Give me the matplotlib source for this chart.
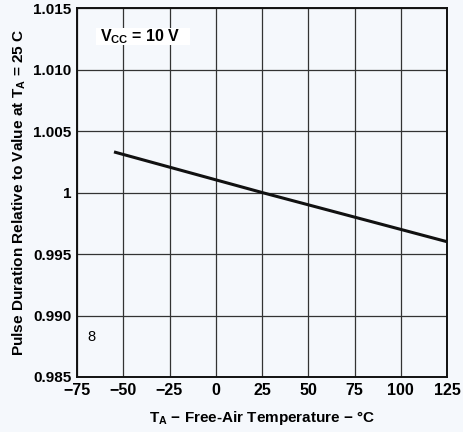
import matplotlib
matplotlib.use("Agg")
import matplotlib.pyplot as plt
from matplotlib.patches import Rectangle

temps = [-55, 25, 125]
ratio = [1.0033, 1.0, 0.996]
xticks = [-75, -50, -25, 0, 25, 50, 75, 100, 125]
yticks = [0.985, 0.990, 0.995, 1.0, 1.005, 1.010, 1.015]
ytick_labels = ["0.985", "0.990", "0.995", "1", "1.005", "1.010", "1.015"]

plt.rcParams['font.family'] = ['Liberation Sans', 'DejaVu Sans']
plt.rcParams['mathtext.fontset'] = 'custom'
plt.rcParams['mathtext.bf'] = 'Liberation Sans:bold'
plt.rcParams['mathtext.rm'] = 'Liberation Sans'
bg = '#f5f8fc'
fig = plt.figure(figsize=(4.63, 4.32), dpi=100, facecolor=bg)
ax = fig.add_axes([77/463, 1 - 377/432, 370/463, 369/432])
ax.set_facecolor(bg)
ax.plot(temps, ratio, color='#111111', lw=2.2, solid_capstyle='butt', zorder=3)
ax.set_xlim(-75, 125)
ax.set_ylim(0.985, 1.015)
ax.set_xticks(xticks)
ax.set_xticklabels([str(t).replace('-', '\u2212') for t in xticks], fontweight='bold', fontsize=11.5)
ax.set_yticks(yticks)
ax.set_yticklabels(ytick_labels, fontweight='bold', fontsize=11)
ax.tick_params(axis='x', length=0, pad=4)
ax.tick_params(axis='y', length=0, pad=4)
ax.grid(True, color='#333333', lw=0.9)
for s in ax.spines.values():
    s.set_linewidth(1.4)
    s.set_color('#111111')
ax.set_xlabel('T$_\\mathbf{A}$ \u2212 Free-Air Temperature \u2212 \u00b0C', fontweight='bold', fontsize=11, labelpad=8)
ax.set_ylabel('Pulse Duration Relative to Value at T$_\\mathbf{A}$ = 25 C', fontweight='bold', fontsize=11.1, labelpad=4)
ax.add_patch(Rectangle((-64.7, 1.01199), 50.8, 0.00138, facecolor='white', edgecolor='none', zorder=2.5))
ax.text(-62.6, 1.01268, 'V$_{\\mathbf{CC}}$ = 10 V', fontweight='bold', fontsize=11.5,
        va='center', ha='left', zorder=4)
ax.text(-67.4, 0.98828, '8', fontsize=10.5, va='center', ha='center')
fig.savefig('out.png', dpi=100, facecolor=bg)
